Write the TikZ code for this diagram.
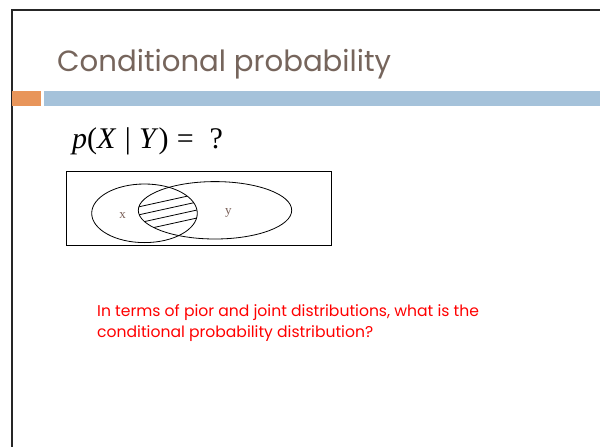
\documentclass[tikz,border=0pt]{standalone}
\usepackage{fontspec}
\setmainfont{Poppins}
\newfontfamily\timesf{Liberation Serif}
\definecolor{titlec}{HTML}{76655C}
\definecolor{barorange}{HTML}{E8955A}
\definecolor{barblue}{HTML}{A5C2DA}
\definecolor{labc}{HTML}{7A6058}
\begin{document}
\begin{tikzpicture}[x=1pt,y=-1pt,
  venn/.style={draw=black,line width=0.8pt},
  hatchline/.style={draw=black,line width=0.8pt},
  lab/.style={inner sep=0pt,font=\timesf\fontsize{13}{13}\selectfont,text=labc}]
\useasboundingbox (0,0) rectangle (600,447);
\fill[white] (0,0) rectangle (600,447);
% slide border
\draw[line width=2pt,black!85] (12,447) -- (12,10) -- (600,10);
% title
\node[anchor=base west,inner sep=0pt,text=titlec,font=\fontsize{29.2}{30}\selectfont] (title) at (57,71) {Conditional probability};
% bars
\fill[barorange] (12,91) rectangle (41,106);
\fill[barblue] (44,91) rectangle (600,106);
% formula
\node[anchor=base west,inner sep=0pt,font=\timesf\fontsize{30}{30}\selectfont] (formula) at (72,148) {\textit{p}(\textit{X}\;|\;\textit{Y})\;=\;\ ?};
% venn box
\draw[line width=0.8pt] (66,171.5) rectangle (331.5,245.5);
\coordinate (cx) at (144.5,213.3);
\coordinate (cy) at (215,210.3);
\begin{scope}
\clip (cx) ellipse [x radius=52.8, y radius=29.3];
\clip (cy) ellipse [x radius=76.7, y radius=28.7];
\foreach \k in {0,...,3}{
  \draw[hatchline] (130,{207+8.0*\k+0.22*8}) -- (205,{207+8.0*\k-0.22*67});
}
\end{scope}
\draw[venn] (cx) ellipse [x radius=52.8, y radius=29.3];
\draw[venn] (cy) ellipse [x radius=76.7, y radius=28.7];
\node[lab] (lx) at (122.7,215.5) {x};
\node[lab] (ly) at (228.3,213) {y};
% question
\node[anchor=base west,inner sep=0pt,align=left,text=red,font=\fontsize{15.6}{20.5}\selectfont] (q) at (97,337) {In terms of pior and joint distributions, what is the\\conditional probability distribution?};
\end{tikzpicture}
\end{document}
